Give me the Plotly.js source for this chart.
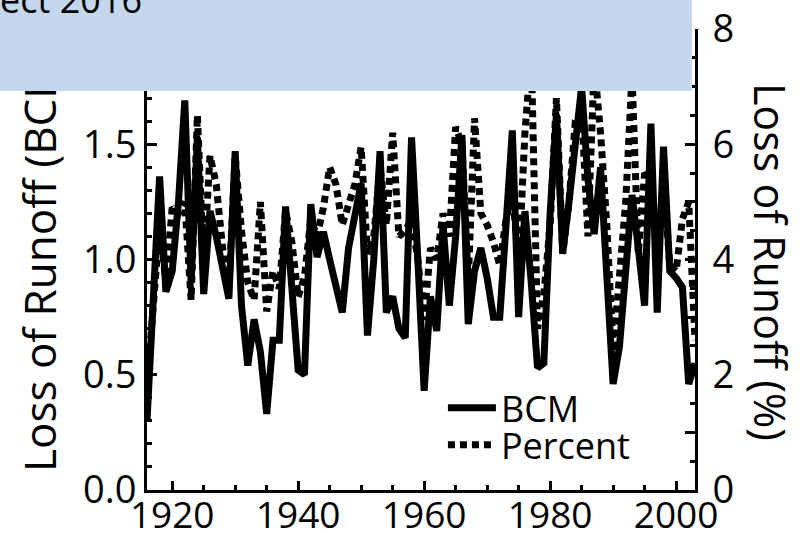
<!DOCTYPE html>
<html>
<head>
<meta charset="utf-8">
<script src="https://cdn.plot.ly/plotly-3.0.1.min.js"></script>
<style>
html,body{margin:0;padding:0;background:#fff;}
#wrap{position:relative;width:810px;height:533px;overflow:hidden;}
#chart{width:810px;height:533px;}
#banner-patch{position:absolute;left:0;top:16px;width:110px;height:75px;background:#c5d7ec;}
</style>
</head>
<body>
<div id="wrap">
<div id="chart"></div>
<div id="banner-patch"></div>
</div>
<script>
const years = [];
for (let y = 1916; y <= 2003; y++) years.push(y);

const bcm = [
  0.30, 0.85, 1.36, 0.86, 0.95, 1.25, 1.69, 0.90, 1.53, 0.85,
  1.21, 1.10, 0.97, 0.83, 1.47, 0.80, 0.54, 0.74, 0.60, 0.33,
  0.65, 0.65, 1.23, 0.90, 0.52, 0.50, 1.24, 1.01, 1.12, 1.00,
  0.88, 0.77, 1.05, 1.20, 1.33, 0.67, 1.00, 1.47, 0.77, 0.84,
  0.70, 0.66, 1.53, 1.00, 0.43, 0.84, 0.69, 1.15, 0.80, 1.10,
  1.54, 0.72, 0.95, 1.05, 0.92, 0.75, 0.75, 1.15, 1.56, 0.75,
  1.21, 0.90, 0.53, 0.55, 1.20, 1.63, 1.03, 1.25, 1.50, 1.75,
  1.35, 1.11, 1.40, 0.95, 0.46, 0.62, 1.00, 1.28, 1.05, 0.80,
  1.59, 0.77, 1.49, 0.95, 0.92, 0.88, 0.46, 0.55
];

const percent = [
  1.8, 3.3, 4.6, 3.6, 4.9, 4.8, 5.0, 3.3, 6.5, 3.9,
  5.8, 5.3, 4.2, 3.5, 5.8, 4.5, 3.6, 3.3, 5.0, 3.1,
  3.8, 3.5, 4.85, 4.3, 3.35, 3.7, 4.7, 4.4, 4.9, 5.6,
  5.3, 4.6, 5.0, 5.3, 5.95, 4.1, 4.4, 5.6, 4.6, 6.2,
  4.4, 4.5, 4.7, 4.0, 2.95, 4.2, 4.0, 4.8, 4.4, 6.3,
  6.0, 3.6, 6.45, 4.8, 4.6, 4.3, 3.9, 4.7, 5.2, 3.9,
  6.2, 7.6, 2.8, 3.4, 4.6, 6.8, 4.1, 5.0, 6.4, 6.6,
  4.4, 7.4, 6.2, 4.6, 2.4, 3.6, 5.0, 7.2, 4.1, 5.5,
  5.4, 4.0, 5.4, 3.9, 3.8, 4.7, 5.0, 2.6
];

const leftTicks = [0, 0.5, 1.0, 1.5];
const leftTickText = ['0.0', '0.5', '1.0', '1.5'];
const rightTicks = [0, 1, 2, 3, 4, 5, 6, 7, 8];
const rightTickText = ['0', '', '2', '', '4', '', '6', '', '8'];
const xTicks = [1920, 1940, 1960, 1980, 2000];

const FONT = 'Open Sans, Noto Sans, sans-serif';
const TICKSIZE = 38;

const traces = [
  {
    x: years, y: percent, yaxis: 'y2', name: 'Percent', mode: 'lines', legend: 'legend2',
    line: {color: '#000', width: 7, dash: '7px,5px'}
  },
  {
    x: years, y: bcm, name: 'BCM', mode: 'lines', legend: 'legend',
    line: {color: '#000', width: 7}
  }
];

const legendBase = {
  xanchor: 'left', yanchor: 'middle', bgcolor: 'rgba(0,0,0,0)',
  font: {family: FONT, size: 36, color: '#000'}, itemwidth: 48
};

const layout = {
  width: 810, height: 533,
  margin: {l: 147, r: 115, t: 29, b: 43},
  paper_bgcolor: '#fff', plot_bgcolor: '#fff',
  font: {family: FONT, size: TICKSIZE, color: '#000'},
  showlegend: true,
  legend: Object.assign({x: 0.540, y: 0.178}, legendBase),
  legend2: Object.assign({x: 0.540, y: 0.098}, legendBase),
  xaxis: {
    range: [1916, 2003], showgrid: false, zeroline: false,
    showline: true, linecolor: '#000', linewidth: 3,
    tickvals: xTicks, ticks: 'inside', ticklen: 9, tickwidth: 3, tickcolor: '#000',
    minor: {dtick: 5, tick0: 1920, ticks: 'inside', ticklen: 5, tickwidth: 3, tickcolor: '#000'},
    tickfont: {family: FONT, size: 37}, ticklabelstandoff: -9
  },
  yaxis: {
    range: [0, 2], showgrid: false, zeroline: false,
    showline: true, linecolor: '#000', linewidth: 3,
    tickvals: leftTicks, ticktext: leftTickText,
    ticks: 'inside', ticklen: 10, tickwidth: 3, tickcolor: '#000',
    minor: {dtick: 0.1, tick0: 0, ticks: 'inside', ticklen: 5, tickwidth: 3, tickcolor: '#000'},
    tickfont: {family: FONT, size: TICKSIZE}, ticklabelstandoff: 0
  },
  yaxis2: {
    range: [0, 8], overlaying: 'y', side: 'right', showgrid: false, zeroline: false,
    showline: true, linecolor: '#000', linewidth: 3,
    tickvals: rightTicks, ticktext: rightTickText,
    ticks: 'inside', ticklen: 10, tickwidth: 3, tickcolor: '#000',
    minor: {dtick: 0.5, tick0: 0, ticks: 'inside', ticklen: 5, tickwidth: 3, tickcolor: '#000'},
    tickfont: {family: FONT, size: TICKSIZE}, ticklabelstandoff: 7
  },
  shapes: [
    {type: 'rect', xref: 'paper', yref: 'paper', layer: 'above',
     x0: -0.27, x1: 0.9945, y0: 0.8655, y1: 1.1,
     fillcolor: '#c5d7ec', line: {width: 0}}
  ],
  annotations: [
    {xref: 'paper', yref: 'paper', x: -0.197, y: 0.035, textangle: -90,
     text: 'Loss of Runoff (BCM)', showarrow: false,
     font: {family: FONT, size: 44, color: '#000'}, xanchor: 'center', yanchor: 'bottom'},
    {xref: 'paper', yref: 'paper', x: 1.137, y: 0.4946, textangle: 90,
     text: 'Loss of Runoff (%)', showarrow: false,
     font: {family: FONT, size: 43, color: '#000'}, xanchor: 'center', yanchor: 'middle'},
    {xref: 'paper', yref: 'paper', x: -0.272, y: 1.0055, xanchor: 'left', yanchor: 'bottom',
     text: 'ect 2016', showarrow: false,
     font: {family: FONT, size: 36, color: '#000'}}
  ]
};

Plotly.newPlot('chart', traces, layout, {displayModeBar: false, staticPlot: true});
</script>
</body>
</html>
